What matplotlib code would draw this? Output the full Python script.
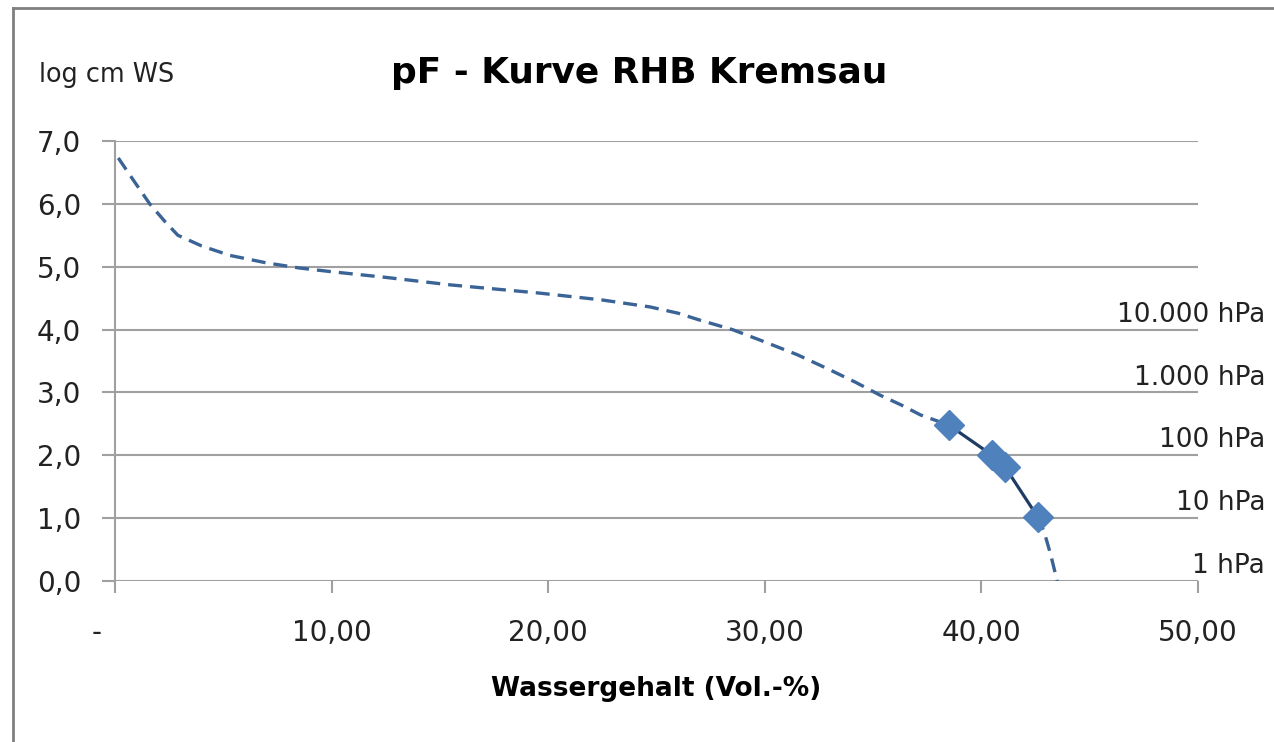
import matplotlib
matplotlib.use("Agg")
import matplotlib.pyplot as plt
from matplotlib.lines import Line2D
from matplotlib.transforms import blended_transform_factory

plt.rcParams["font.family"] = ["DejaVu Sans"]

# ==========================
# Data
# ==========================
# measured points (Wassergehalt Vol.-%, pF)
mess_x = [38.5, 40.5, 41.1, 42.6]
mess_y = [2.48, 2.00, 1.81, 1.02]

# fitted curve (dashed), dry part up to first point, wet part after last point
fit_dry_x = [0.15, 0.8, 1.6, 2.3, 2.9, 4.0, 5.3, 7.0, 8.5, 10.0, 12.5, 15.5, 19.6, 22.5,
             24.7, 26.0, 27.0, 28.5, 29.8, 31.5, 33.0, 34.2, 35.3, 36.3, 37.2, 38.5]
fit_dry_y = [6.73, 6.40, 6.00, 5.72, 5.50, 5.33, 5.18, 5.06, 4.98, 4.92, 4.83, 4.71, 4.58, 4.47,
             4.36, 4.26, 4.15, 4.00, 3.83, 3.60, 3.36, 3.16, 2.96, 2.80, 2.64, 2.48]
fit_wet_x = [42.6, 42.9, 43.2, 43.5]
fit_wet_y = [1.02, 0.78, 0.42, 0.00]

y_ticks = [0, 1, 2, 3, 4, 5, 6, 7]
y_ticklabels = ["0,0", "1,0", "2,0", "3,0", "4,0", "5,0", "6,0", "7,0"]
x_ticks = [0, 10, 20, 30, 40, 50]
x_ticklabels = ["-    ", "10,00", "20,00", "30,00", "40,00", "50,00"]

druck_y = [0, 1, 2, 3, 4]
druck_labels = ["1 hPa", "10 hPa", "100 hPa", "1.000 hPa", "10.000 hPa"]

# ==========================
# Plot
# ==========================
fig = plt.figure(figsize=(12.74, 7.42), dpi=100)
ax = fig.add_axes([0.0903, 0.2170, 0.8500, 0.5930])

grid_col = "#A0A0A0"
text_col = "#222222"

for fx, fy in [(fit_dry_x, fit_dry_y), (fit_wet_x, fit_wet_y)]:
    ax.plot(fx, fy, color="#3A6396", lw=2.4, dashes=[4.2, 2.4], zorder=2)
ax.plot(mess_x, mess_y, color="#1F3C64", lw=2.3, zorder=3)
ax.plot(mess_x, mess_y, ls="none", marker="D", ms=15, color="#4F81BD",
        markeredgecolor="#4F81BD", zorder=4)

ax.set_xlim(0, 50)
ax.set_ylim(0, 7)
ax.set_yticks(y_ticks)
ax.set_yticklabels(y_ticklabels)
ax.set_xticks(x_ticks)
ax.set_xticklabels(x_ticklabels)

for y in y_ticks:
    ax.axhline(y, color=grid_col, lw=1.5, zorder=1)

for s in ["top", "right", "bottom"]:
    ax.spines[s].set_visible(False)
ax.spines["left"].set_color(grid_col)
ax.spines["left"].set_linewidth(1.5)

ax.tick_params(axis="y", length=9.5, width=1.5, color=grid_col, pad=15,
               labelsize=20, labelcolor=text_col)
ax.tick_params(axis="x", length=8.5, width=1.5, color=grid_col, pad=19,
               labelsize=20, labelcolor=text_col)

# pressure labels at the right edge, just above each gridline
trans = blended_transform_factory(fig.transFigure, ax.transData)
for y, lab in zip(druck_y, druck_labels):
    ax.text(0.993, y + 0.03, lab, transform=trans, ha="right", va="bottom",
            fontsize=19, color=text_col)

ax.set_xlabel("Wassergehalt (Vol.-%)", fontsize=19, fontweight="bold", labelpad=21)

fig.text(0.502, 0.902, "pF - Kurve RHB Kremsau", ha="center", va="center",
         fontsize=25.8, fontweight="bold")
fig.text(0.031, 0.899, "log cm WS", ha="left", va="center", fontsize=18.4,
         color=text_col)

# chart border (left and top)
fig.add_artist(Line2D([0.0102, 0.0102], [0.0, 0.989], color="#808080", lw=2,
                      transform=fig.transFigure))
fig.add_artist(Line2D([0.0102, 1.0], [0.989, 0.989], color="#808080", lw=2,
                      transform=fig.transFigure))

fig.savefig("out.png", dpi=100)
